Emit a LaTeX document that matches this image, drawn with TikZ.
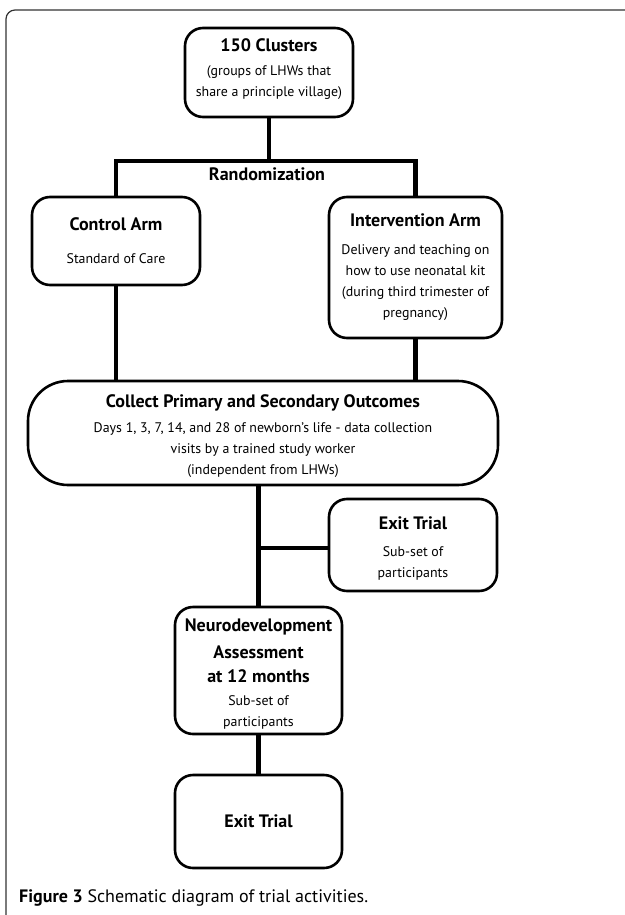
\documentclass[tikz,border=0pt]{standalone}
\usepackage{fontspec}
\setmainfont{PT Sans}
\begin{document}
\begin{tikzpicture}[x=1pt,y=-1pt,
  box/.style={draw=black,line width=2.6pt,rounded corners=18pt,align=center,inner sep=0pt,fill=white,
    font=\fontsize{13.9}{21}\selectfont},
  conn/.style={draw=black,line width=4.8pt,line join=miter,line cap=butt}]
\newcommand\ttlf{\fontsize{18}{21}\selectfont\bfseries}
\useasboundingbox (0,0) rectangle (624,915);
\fill[white] (0,0) rectangle (624,915);
\draw[line width=1.2pt,draw=black!80,rounded corners=9pt] (6,940) -- (6,10) -- (650,10);
% coordinates
\coordinate (rl) at (115,161);
\coordinate (br) at (258.5,548);
% nodes
\node[box,minimum width=168pt,minimum height=89pt] (clusters) at (269,72.5)
  {{\ttlf 150 Clusters}\\[3pt]
   (groups of LHWs that\\share a principle village)\rule[-10pt]{0pt}{0pt}};
\node[box,minimum width=168pt,minimum height=88pt] (control) at (116,241)
  {{\ttlf Control Arm}\\[12pt]
   Standard of Care};
\node[box,minimum width=173pt,minimum height=141pt] (interv) at (415.5,267.5)
  {{\ttlf Intervention Arm}\\[7pt]
   Delivery and teaching on\\
   how to use neonatal kit\\
   (during third trimester of\\
   pregnancy)};
\node[box,rounded corners=40pt,minimum width=470pt,minimum height=104pt] (collect) at (263,433)
  {\rule{0pt}{20pt}{\ttlf Collect Primary and Secondary Outcomes}\\[4pt]
   Days 1, 3, 7, 14, and 28 of newborn’s life - data collection\\
   visits by a trained study worker\\
   (independent from LHWs)};
\node[box,minimum width=168pt,minimum height=92pt] (exit1) at (413,545)
  {\rule{0pt}{19pt}{\ttlf Exit Trial}\\[6pt]
   Sub-set of\\participants};
\node[box,minimum width=167pt,minimum height=127pt] (neuro) at (258.5,670.5)
  {\rule{0pt}{20pt}{\ttlf Neurodevelopment}\\[6pt]{\ttlf Assessment}\\[3pt]
   {\ttlf at 12 months}\\[2pt]
   Sub-set of\\participants};
\node[box,minimum width=167pt,minimum height=93pt] (exit2) at (258.5,821.5)
  {\ttlf Exit Trial};
\node[font=\fontsize{18}{21}\selectfont\bfseries] (rand) at (267,174) {Randomization};
\node[anchor=west,font=\fontsize{18}{21}\selectfont,inner sep=0pt] (cap) at (19,898)
  {\textbf{Figure 3} Schematic diagram of trial activities.};
% connectors
\draw[conn] (clusters.south) -- (clusters.south |- rl);
\draw[conn] (control.north) |- (interv.north |- rl) -- (interv.north);
\draw[conn] (control.south) -- (control.south |- collect.north);
\draw[conn] (interv.south) -- (interv.south |- collect.north);
\draw[conn] (neuro.north |- collect.south) -- (neuro.north);
\draw[conn] (br) -- (br -| exit1.west);
\draw[conn] (neuro.south) -- (exit2.north);
\end{tikzpicture}
\end{document}
